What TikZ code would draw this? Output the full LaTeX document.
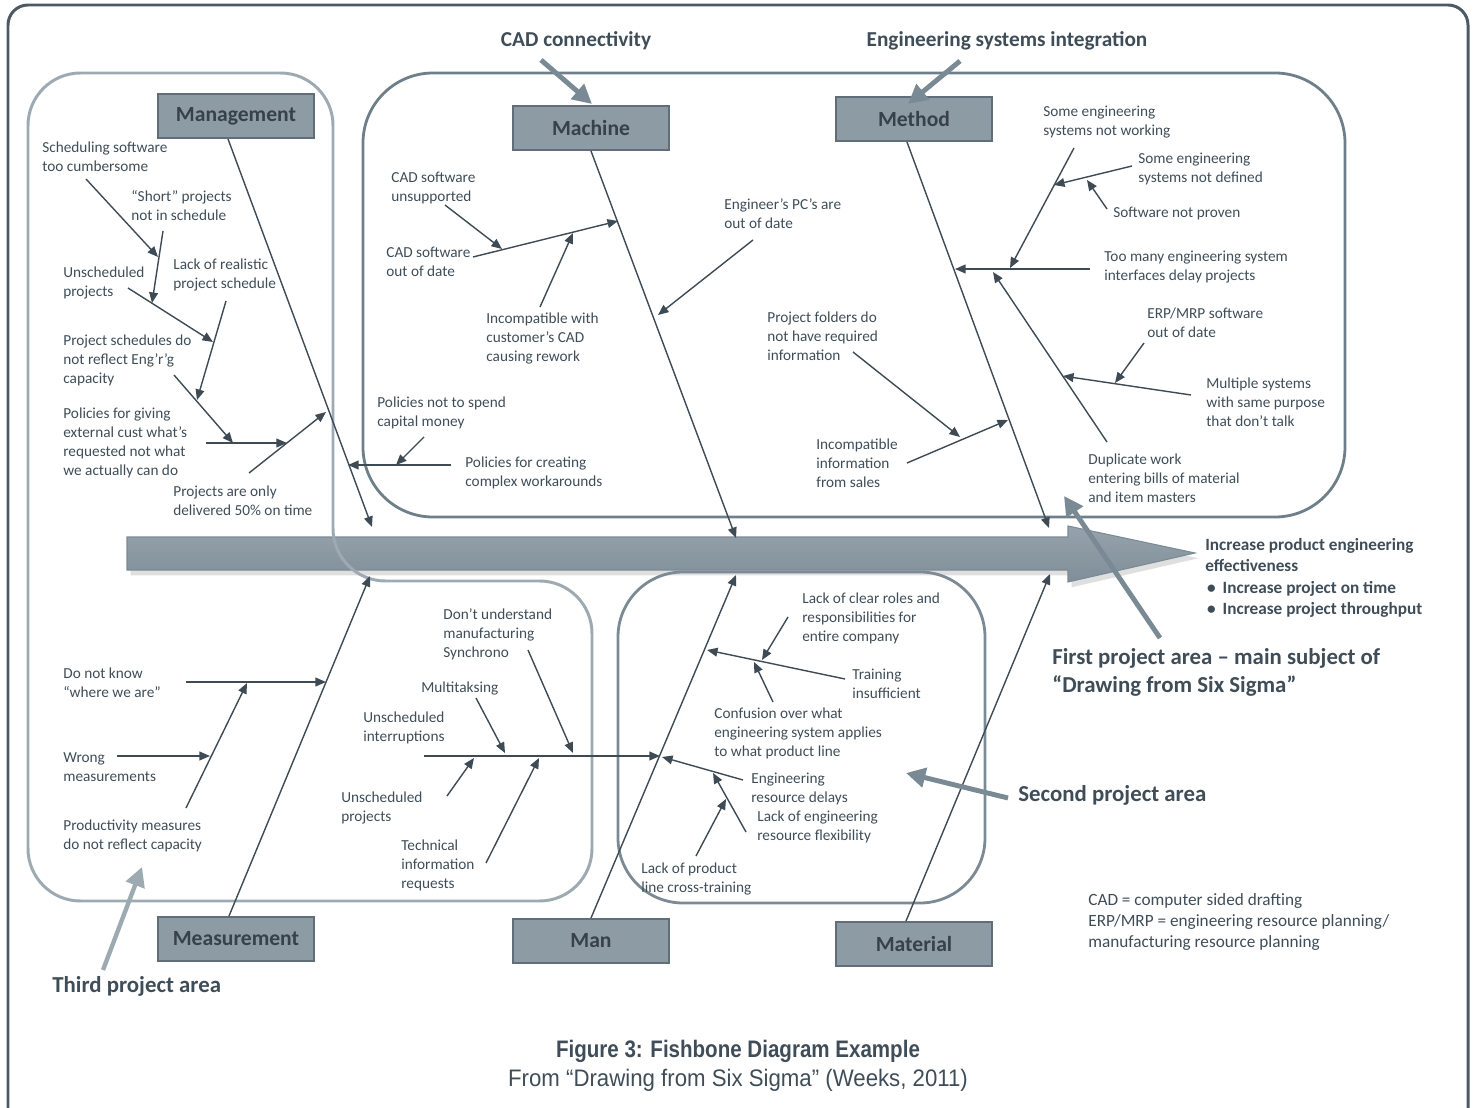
\documentclass[tikz,border=0pt]{standalone}
\usepackage{fontspec}
\setmainfont{Carlito}
\newfontfamily\captionfont[FakeStretch=0.86]{Liberation Sans}
\newfontfamily\sourcefont[FakeStretch=0.93]{Liberation Sans}
\usepackage{tikz}
\usetikzlibrary{arrows.meta,shadows}
\definecolor{txt}{HTML}{3F4D58}
\definecolor{boneline}{HTML}{3E4B55}
\definecolor{catfill}{HTML}{8D9BA5}
\definecolor{catline}{HTML}{5F6E78}
\definecolor{firstarea}{HTML}{6F7F89}
\definecolor{secondarea}{HTML}{7B8A94}
\definecolor{thirdarea}{HTML}{9DAAB2}
\definecolor{pointer}{HTML}{7A8A94}
\definecolor{framecol}{HTML}{4D5A64}
\definecolor{spinetop}{HTML}{96A3AC}
\definecolor{spinemid}{HTML}{63737D}
\definecolor{spinebot}{HTML}{7F8E98}
\newcommand{\causefont}{\fontsize{8.7}{10.8}\selectfont}
\newcommand{\labelfont}{\fontsize{13}{15.9}\selectfont\bfseries}
\tikzstyle{fishcat}=[rectangle, draw=catline, line width=1.1pt, fill=catfill, minimum width=3.12cm, minimum height=0.88cm, font=\fontsize{12.3}{14}\selectfont\bfseries, text=txt!85!black]
\tikzstyle{causetext}=[anchor=north west, inner sep=0pt, align=left, font=\causefont, text=txt]
\tikzstyle{bone}=[draw=boneline, line width=0.8pt, -{Triangle[length=6pt,width=5pt]}]
\tikzstyle{pointerline}=[draw=pointer, line width=2.8pt, -{Triangle[length=11pt,width=11pt]}]
\tikzstyle{arealabel}=[inner sep=0pt, font=\labelfont, text=txt, align=left]
\tikzstyle{spine}=[draw=secondarea, line width=0.6pt, top color=spinetop, middle color=spinemid, bottom color=spinebot, drop shadow={shadow xshift=2pt, shadow yshift=-3pt, opacity=0.25}]
\newcommand{\fishcat}[3]{
	\node[fishcat] (#1) at (#2) {#3};}
\newcommand{\cause}[3]{
	\coordinate (#1-a) at (#2);
	\coordinate (#1-b) at (#3);
	\path[bone] (#1-a) -- (#1-b);}
\newcommand{\causetext}[3]{
	\node[causetext] (#1) at (#2) {#3};}

\begin{document}
\begin{tikzpicture}[x=0.02cm, y=-0.02cm]
	\useasboundingbox (0,0) rectangle (1475,1108);
	\draw[framecol, line width=1.7pt, rounded corners=0.4cm] (8,5) rectangle (1468,1150);

	% spine
	\path[spine] (127,537) -- (1068,537) -- (1068,526) -- (1195,553) -- (1068,582) -- (1068,570) -- (127,570) -- cycle;

	% project areas
	\draw[firstarea, line width=1.6pt, rounded corners=1.4cm] (363,73) rectangle (1345,517);
	\draw[thirdarea, line width=1.7pt, rounded corners=1.05cm] (28,73) -- (333,73) -- (333,581) -- (592,581) -- (592,901) -- (28,901) -- cycle;
	\draw[secondarea, line width=1.6pt, rounded corners=1.3cm] (618,572) rectangle (985,903);

	\fishcat{mgmt}{236,116}{Management}
	\fishcat{mach}{591,128}{Machine}
	\fishcat{meth}{914,119}{Method}
	\fishcat{meas}{236,939}{Measurement}
	\fishcat{man}{591,941}{Man}
	\fishcat{matl}{914,944}{Material}

	\coordinate (mgmt-head) at (372,527);
	\coordinate (mach-head) at (736,538);
	\coordinate (meth-head) at (1049,528);
	\coordinate (meas-head) at (370,576);
	\coordinate (man-head) at (736,575);
	\coordinate (matl-head) at (1050,574);
	\path[bone] ([xshift=-0.16cm]mgmt.south) -- (mgmt-head);
	\path[bone] (mach.south) -- (mach-head);
	\path[bone] ([xshift=-0.14cm]meth.south) -- (meth-head);
	\path[bone] ([xshift=-0.14cm]meas.north) -- (meas-head);
	\path[bone] (man.north) -- (man-head);
	\path[bone] ([xshift=-0.16cm]matl.north) -- (matl-head);

	% management
	\cause{sched}{86,179}{158,257}
	\cause{short}{163,231}{152,303}
	\cause{unsch}{128,288}{213,342}
	\cause{lackreal}{226,301}{197,400}
	\cause{projsched}{174,375}{233,443}
	\cause{policies}{206,443}{287,443}
	\cause{delivered}{249,473}{326,412}
	\cause{workaround}{451,465}{348,465}
	\cause{capital}{424,437}{396,465}
	\causetext{t-sched}{42,142}{Scheduling software\\too cumbersome}
	\causetext{t-short}{131,190}{“Short” projects\\not in schedule}
	\causetext{t-unsch}{63,267}{Unscheduled\\projects}
	\causetext{t-lackreal}{173,259}{Lack of realistic\\project schedule}
	\causetext{t-projsched}{63,335}{Project schedules do\\not reflect Eng’r’g\\capacity}
	\causetext{t-policies}{63,408}{Policies for giving\\external cust what’s\\requested not what\\we actually can do}
	\causetext{t-delivered}{173,486}{Projects are only\\delivered 50\% on time}
	\causetext{t-capital}{377,397}{Policies not to spend\\capital money}
	\causetext{t-workaround}{465,457}{Policies for creating\\complex workarounds}

	% machine
	\cause{cadunsup}{445,205}{502,249}
	\cause{cadold}{473,257}{618,221}
	\cause{incompat}{540,307}{573,233}
	\cause{pcs}{753,240}{658,315}
	\causetext{t-cadunsup}{391,172}{CAD software\\unsupported}
	\causetext{t-cadold}{386,247}{CAD software\\out of date}
	\causetext{t-incompat}{486,313}{Incompatible with\\customer’s CAD\\causing rework}
	\causetext{t-pcs}{724,198}{Engineer’s PC’s are\\out of date}

	% method
	\cause{notworking}{1074,148}{1010,268}
	\cause{notdefined}{1132,166}{1054,185}
	\cause{notproven}{1107,209}{1087,180}
	\cause{toomany}{1090,269}{955,269}
	\cause{duplicate}{1107,442}{993,272}
	\cause{erp}{1144,343}{1115,383}
	\cause{multiple}{1191,395}{1063,376}
	\cause{folders}{853,352}{960,437}
	\cause{incompinfo}{907,463}{1008,420}
	\causetext{t-notworking}{1043,106}{Some engineering\\systems not working}
	\causetext{t-notdefined}{1138,153}{Some engineering\\systems not defined}
	\causetext{t-notproven}{1113,207}{Software not proven}
	\causetext{t-toomany}{1104,251}{Too many engineering system\\interfaces delay projects}
	\causetext{t-erp}{1147,308}{ERP/MRP software\\out of date}
	\causetext{t-multiple}{1206,378}{Multiple systems\\with same purpose\\that don’t talk}
	\causetext{t-duplicate}{1088,454}{Duplicate work\\entering bills of material\\and item masters}
	\causetext{t-folders}{767,312}{Project folders do\\not have required\\information}
	\causetext{t-incompinfo}{816,439}{Incompatible\\information\\from sales}

	% measurement
	\cause{donotknow}{186,682}{326,682}
	\cause{wrong}{117,756}{210,756}
	\cause{productivity}{186,808}{247,683}
	\causetext{t-donotknow}{63,668}{Do not know\\“where we are”}
	\causetext{t-wrong}{63,752}{Wrong\\measurements}
	\causetext{t-productivity}{63,820}{Productivity measures\\do not reflect capacity}

	% man
	\cause{interrupt}{424,756}{660,756}
	\cause{synchrono}{528,650}{573,753}
	\cause{multitask}{476,698}{505,753}
	\cause{unschproj}{447,796}{474,758}
	\cause{technical}{486,863}{539,758}
	\cause{roles}{788,617}{762,660}
	\cause{training}{845,679}{707,650}
	\cause{confusion}{773,702}{754,662}
	\cause{delays}{743,780}{662,757}
	\cause{flexibility}{746,832}{713,773}
	\cause{crosstrain}{696,856}{726,799}
	\causetext{t-synchrono}{443,608}{Don’t understand\\manufacturing\\Synchrono}
	\causetext{t-multitask}{421,682}{Multitaksing}
	\causetext{t-interrupt}{363,712}{Unscheduled\\interruptions}
	\causetext{t-unschproj}{341,792}{Unscheduled\\projects}
	\causetext{t-technical}{401,840}{Technical\\information\\requests}
	\causetext{t-roles}{802,593}{Lack of clear roles and\\responsibilities for\\entire company}
	\causetext{t-training}{852,669}{Training\\insufficient}
	\causetext{t-confusion}{714,708}{Confusion over what\\engineering system applies\\to what product line}
	\causetext{t-delays}{751,773}{Engineering\\resource delays}
	\causetext{t-flexibility}{757,811}{Lack of engineering\\resource flexibility}
	\causetext{t-crosstrain}{641,863}{Lack of product\\line cross-training}

	% effect and notes
	\node[causetext, font=\fontsize{9.8}{12.2}\selectfont\bfseries] (effect) at (1205,538) {Increase product engineering\\effectiveness\\\hspace*{1pt}\textbullet\hspace{4pt}Increase project on time\\\hspace*{1pt}\textbullet\hspace{4pt}Increase project throughput};
	\node[causetext, font=\fontsize{9.8}{11.9}\selectfont] (legend) at (1088,893) {CAD = computer sided drafting\\ERP/MRP = engineering resource planning/\\manufacturing resource planning};

	% project area labels
	\node[arealabel, font=\fontsize{12.1}{14}\selectfont\bfseries] (cadconn) at (576,41) {CAD connectivity};
	\node[arealabel, font=\fontsize{12.1}{14}\selectfont\bfseries] (engint) at (1007,41) {Engineering systems integration};
	\node[arealabel, anchor=north west] (first) at (1052,648) {First project area – main subject of\\“Drawing from Six Sigma”};
	\node[arealabel, anchor=west] (second) at (1018,795) {Second project area};
	\node[arealabel, anchor=west] (third) at (52,986) {Third project area};
	\coordinate (cadconn-a) at (541,60);
	\coordinate (cadconn-b) at (592,104);
	\coordinate (engint-a) at (960,61);
	\coordinate (engint-b) at (908,104);
	\coordinate (first-a) at (1160,638);
	\coordinate (first-b) at (1064,496);
	\coordinate (second-a) at (1008,798);
	\coordinate (second-b) at (906,773);
	\coordinate (third-a) at (103,970);
	\coordinate (third-b) at (142,867);
	\path[pointerline] (cadconn-a) -- (cadconn-b);
	\path[pointerline] (engint-a) -- (engint-b);
	\path[pointerline] (first-a) -- (first-b);
	\path[pointerline] (second-a) -- (second-b);
	\path[pointerline, draw=thirdarea, line width=2.5pt] (third-a) -- (third-b);

	% caption
	\node[text=txt, font=\captionfont\fontsize{13.6}{16}\selectfont\bfseries] (caption) at (738,1051) {Figure 3: Fishbone Diagram Example};
	\node[text=txt, font=\sourcefont\fontsize{13.6}{16}\selectfont] (source) at (738,1080) {From “Drawing from Six Sigma” (Weeks, 2011)};
\end{tikzpicture}
\end{document}
